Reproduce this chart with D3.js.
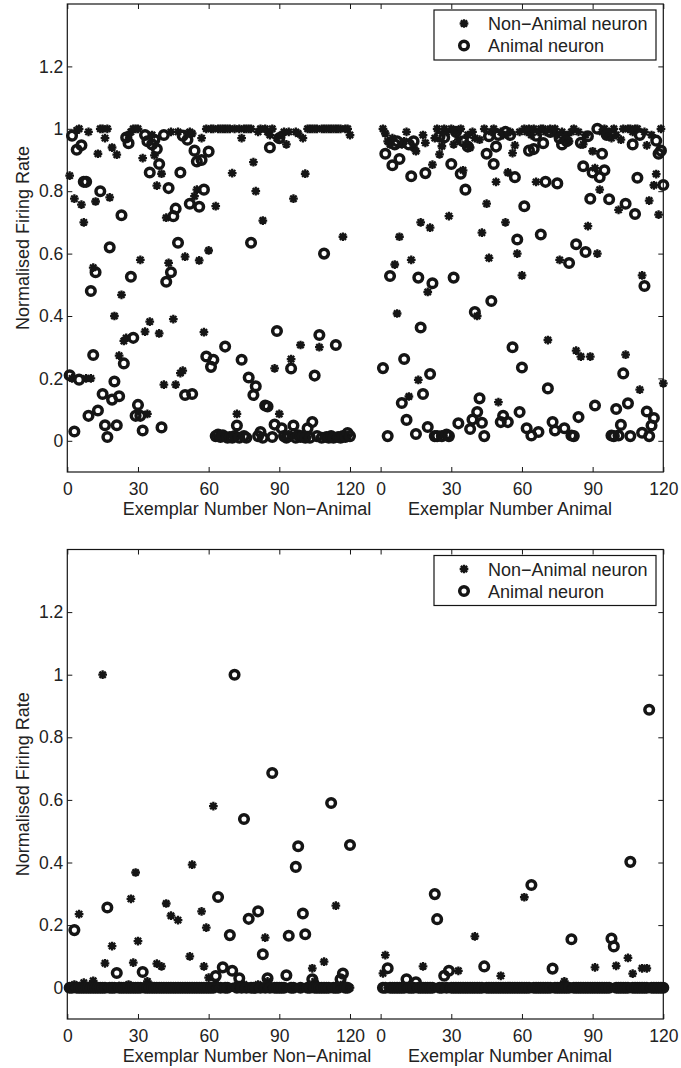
<!DOCTYPE html>
<html>
<head>
<meta charset="utf-8">
<script src="https://cdn.jsdelivr.net/npm/d3@7"></script>
<style>
  body { margin: 0; background: #fff; }
  text { font-family: "Liberation Sans", Arial, Helvetica, sans-serif; fill: #222; }
  .tick text { font-size: 17.5px; }
  .label, .legend text { font-size: 18px; }
</style>
</head>
<body>
<div id="chart"></div>
<script>
// animal exemplars are drawn after a gap, shifted by this many units
const xOffset = 133;
const exemplarTicks = [0, 30, 60, 90, 120];
const rateTicks = [0, 0.2, 0.4, 0.6, 0.8, 1, 1.2];
const legendLabels = ['Non\u2212Animal neuron', 'Animal neuron'];
const xLabels = ['Exemplar Number Non\u2212Animal', 'Exemplar Number Animal'];
const yLabel = 'Normalised Firing Rate';

// top panel: exemplars 1..120
const p1NonNeuronNonEx = [
  0.85, 0.2, 0.776, 0.995, 1.0, 0.757, 0.70, 0.2, 0.99, 0.2,
  0.555, 0.767, 0.92, 1.0, 1.0, 0.97, 1.0, 0.78, 0.94, 0.40,
  0.917, 0.273, 0.468, 0.32, 0.33, 0.98, 0.99, 1.0, 1.0, 1.0,
  0.58, 0.906, 0.35, 0.086, 0.382, 0.98, 0.915, 0.818, 0.344, 0.856,
  0.18, 0.715, 0.57, 0.99, 0.39, 0.18, 0.99, 0.217, 0.225, 0.59,
  0.985, 0.99, 0.985, 0.784, 0.805, 0.578, 0.97, 0.348, 1.0, 0.61,
  1.0, 1.0, 0.752, 1.0, 1.0, 1.0, 1.0, 1.0, 1.0, 0.858,
  1.0, 0.086, 1.0, 0.97, 1.0, 1.0, 1.0, 1.0, 0.893, 0.80,
  0.99, 1.0, 0.706, 1.0, 0.99, 0.98, 1.0, 0.232, 0.97, 0.086,
  0.98, 0.99, 0.95, 0.99, 0.262, 0.776, 0.99, 0.985, 0.307, 0.97,
  0.856, 1.0, 1.0, 1.0, 1.0, 1.0, 0.30, 1.0, 1.0, 1.0,
  1.0, 1.0, 1.0, 1.0, 1.0, 1.0, 0.654, 1.0, 1.0, 0.98
];
const p1AnimNeuronNonEx = [
  0.21, 0.978, 0.03, 0.933, 0.196, 0.947, 0.83, 0.83, 0.08, 0.48,
  0.275, 0.54, 0.097, 0.80, 0.15, 0.05, 0.012, 0.62, 0.132, 0.19,
  0.05, 0.143, 0.723, 0.248, 0.972, 0.954, 0.526, 0.33, 0.08, 0.115,
  0.08, 0.033, 0.98, 0.96, 0.86, 0.95, 0.965, 0.935, 0.887, 0.043,
  0.98, 0.51, 0.81, 0.54, 0.72, 0.744, 0.635, 0.86, 0.978, 0.147,
  0.965, 0.76, 0.15, 0.93, 0.895, 0.75, 0.90, 0.805, 0.27, 0.927,
  0.237, 0.26, 0.015, 0.02, 0.012, 0.018, 0.302, 0.01, 0.012, 0.01,
  0.015, 0.049, 0.01, 0.26, 0.015, 0.01, 0.203, 0.635, 0.147, 0.175,
  0.015, 0.028, 0.01, 0.113, 0.11, 0.94, 0.012, 0.052, 0.352, 0.97,
  0.04, 0.015, 0.01, 0.015, 0.232, 0.049, 0.01, 0.018, 0.012, 0.015,
  0.01, 0.04, 0.01, 0.06, 0.209, 0.015, 0.339, 0.01, 0.60, 0.012,
  0.01, 0.015, 0.01, 0.307, 0.012, 0.01, 0.015, 0.012, 0.025, 0.015
];
const p1NonNeuronAnimEx = [
  1.0, 0.985, 0.96, 0.95, 0.97, 0.565, 0.408, 0.654, 0.95, 0.96,
  0.99, 0.142, 0.58, 0.94, 0.928, 0.195, 0.70, 0.98, 0.955, 0.477,
  0.683, 0.885, 0.97, 1.0, 0.918, 0.944, 1.0, 0.99, 0.72, 1.0,
  0.95, 0.99, 0.965, 1.0, 0.867, 0.95, 0.98, 0.94, 0.99, 0.97,
  0.40, 0.965, 0.667, 1.0, 0.76, 0.586, 0.99, 1.0, 0.83, 0.124,
  0.99, 0.98, 0.70, 0.86, 0.99, 0.922, 0.947, 0.60, 0.99, 0.53,
  1.0, 0.99, 1.0, 0.98, 1.0, 0.83, 0.99, 1.0, 1.0, 0.99,
  0.323, 1.0, 0.99, 1.0, 0.98, 0.58, 0.99, 0.97, 0.98, 0.96,
  0.99, 1.0, 0.289, 0.99, 0.27, 0.95, 0.98, 0.688, 0.27, 0.928,
  0.874, 0.60, 0.805, 0.99, 1.0, 0.98, 0.99, 0.97, 1.0, 0.98,
  0.74, 0.965, 1.0, 0.276, 1.0, 1.0, 0.99, 1.0, 1.0, 0.164,
  0.53, 0.99, 0.947, 0.77, 0.98, 0.819, 0.855, 0.725, 1.0, 0.184
];
const p1AnimNeuronAnimEx = [
  0.233, 0.92, 0.015, 0.528, 0.883, 0.95, 0.96, 0.903, 0.121, 0.262,
  0.067, 0.95, 0.848, 0.96, 0.022, 0.523, 0.363, 0.15, 0.858, 0.044,
  0.214, 0.505, 0.015, 0.015, 0.975, 0.015, 0.972, 0.02, 0.015, 0.887,
  0.523, 0.99, 0.056, 0.856, 0.96, 0.805, 0.943, 0.038, 0.068, 0.413,
  0.092, 0.136, 0.058, 0.015, 0.92, 0.976, 0.448, 0.887, 0.943, 0.98,
  0.06, 0.08, 0.99, 0.06, 0.98, 0.30, 0.845, 0.645, 0.092, 0.235,
  0.752, 0.04, 0.93, 0.017, 0.935, 0.978, 0.028, 0.661, 0.954, 0.83,
  0.168, 0.99, 0.06, 0.033, 0.825, 0.97, 0.95, 0.04, 0.96, 0.57,
  0.017, 0.015, 0.63, 0.076, 0.955, 0.88, 0.605, 0.976, 0.776, 0.86,
  0.113, 1.0, 0.845, 0.92, 0.867, 0.98, 0.774, 0.017, 0.015, 0.102,
  0.017, 0.051, 0.216, 0.76, 0.12, 0.015, 0.95, 0.727, 0.843, 0.98,
  0.026, 0.496, 0.094, 0.015, 0.049, 0.073, 0.962, 0.92, 0.93, 0.82
];

// bottom panel
const p2NonNeuronNonEx = [
  0, 0, 0.01, 0, 0.235, 0, 0.016, 0, 0, 0.005,
  0.022, 0, 0, 0, 1.0, 0.078, 0, 0, 0.133, 0,
  0, 0.005, 0, 0, 0, 0.01, 0.284, 0.08, 0.368, 0.149,
  0, 0, 0, 0.02, 0, 0.005, 0, 0.077, 0, 0.068,
  0, 0.269, 0, 0.23, 0, 0, 0.216, 0, 0, 0,
  0, 0.1, 0.393, 0, 0, 0, 0.244, 0.068, 0.192, 0.032,
  0, 0.58, 0.01, 0, 0, 0, 0, 0, 0, 0,
  0.005, 0, 0, 0, 0.01, 0, 0, 0, 0, 0,
  0.01, 0, 0, 0.16, 0.02, 0, 0, 0, 0, 0,
  0, 0, 0, 0, 0, 0, 0, 0, 0, 0,
  0, 0, 0, 0.062, 0.02, 0, 0, 0, 0.083, 0,
  0, 0, 0, 0.262, 0, 0, 0.01, 0, 0, 0
];
const p2AnimNeuronNonEx = [
  0, 0, 0.184, 0, 0, 0, 0, 0, 0, 0,
  0, 0, 0, 0, 0, 0, 0.256, 0, 0, 0,
  0.047, 0, 0, 0, 0, 0, 0, 0, 0, 0,
  0, 0.05, 0, 0, 0, 0, 0, 0, 0, 0,
  0, 0, 0, 0, 0, 0, 0, 0, 0, 0,
  0, 0, 0, 0, 0, 0, 0, 0, 0, 0,
  0, 0, 0.037, 0.29, 0, 0.065, 0, 0, 0.168, 0.054,
  1.0, 0, 0.03, 0, 0.539, 0, 0.22, 0, 0, 0,
  0.244, 0, 0.107, 0, 0.03, 0, 0.686, 0, 0, 0,
  0, 0, 0.04, 0.166, 0, 0, 0.386, 0.452, 0, 0.237,
  0.171, 0, 0, 0.027, 0, 0, 0, 0, 0, 0,
  0, 0.59, 0, 0, 0, 0.027, 0.045, 0, 0, 0.456
];
const p2NonNeuronAnimEx = [
  0.046, 0.104, 0, 0, 0, 0, 0, 0, 0, 0,
  0, 0, 0, 0, 0, 0, 0, 0.068, 0, 0,
  0, 0, 0, 0, 0, 0, 0, 0, 0, 0,
  0, 0, 0.054, 0, 0, 0, 0, 0, 0, 0.164,
  0, 0, 0, 0, 0, 0, 0, 0, 0, 0,
  0.038, 0, 0, 0, 0, 0, 0, 0, 0, 0,
  0.289, 0, 0, 0, 0, 0, 0, 0, 0, 0,
  0, 0, 0, 0, 0, 0, 0, 0.02, 0, 0,
  0, 0, 0, 0, 0, 0, 0, 0, 0, 0,
  0.065, 0, 0, 0, 0, 0, 0, 0, 0, 0.07,
  0, 0, 0, 0, 0.095, 0, 0.045, 0, 0, 0,
  0.062, 0, 0.062, 0, 0, 0, 0, 0, 0, 0
];
const p2AnimNeuronAnimEx = [
  0, 0, 0.062, 0, 0, 0, 0, 0, 0, 0,
  0.027, 0, 0, 0, 0.017, 0, 0, 0, 0, 0,
  0, 0, 0.299, 0.219, 0, 0, 0.038, 0, 0.054, 0,
  0, 0, 0, 0, 0, 0, 0, 0, 0, 0,
  0, 0, 0, 0.068, 0, 0, 0, 0, 0, 0,
  0, 0, 0, 0, 0, 0, 0, 0, 0, 0,
  0, 0, 0, 0.328, 0, 0, 0, 0, 0, 0,
  0, 0, 0.061, 0, 0, 0, 0, 0, 0, 0,
  0.155, 0, 0, 0, 0, 0, 0, 0, 0, 0,
  0, 0, 0, 0, 0, 0, 0, 0.157, 0.132, 0,
  0, 0, 0, 0, 0, 0.402, 0, 0, 0, 0,
  0, 0, 0, 0.888, 0, 0, 0, 0, 0, 0
];

const ink = '#151515';

// matlab style '*' marker
const asterisk = {
    draw(ctx, size) {
        const r = Math.sqrt(size) / 2;
        const d = r * 0.72;
        ctx.moveTo(-r, 0); ctx.lineTo(r, 0);
        ctx.moveTo(0, -r); ctx.lineTo(0, r);
        ctx.moveTo(-d, -d); ctx.lineTo(d, d);
        ctx.moveTo(-d, d); ctx.lineTo(d, -d);
    }
};
const starPath = d3.symbol(asterisk, 76)();
const ringRadius = 4.3;
const ringWidth = 3.5;

const svg = d3.select('#chart')
    .append('svg')
    .attr('width', 681)
    .attr('height', 1068);

const scatterPanel = (props) => {
    const { top, height, stars, rings } = props;

    const margin = { left: 67.3 };
    const width = 596;

    const bounds = svg.append('g')
        .attr('transform', `translate(${margin.left}, ${top})`);

    const xScale = d3.scaleLinear()
        .domain([0, xOffset + 120])
        .range([0, width]);

    const yScale = d3.scaleLinear()
        .domain([-0.1, 1.4])
        .range([height, 0]);

    const xTickValues = exemplarTicks.concat(exemplarTicks.map(d => d + xOffset));
    const xFormat = d => d >= xOffset ? d - xOffset : d;

    const styleAxis = g => {
        g.select('.domain').remove();
        g.selectAll('.tick line').attr('stroke', ink);
    };

    bounds.append('g')
        .attr('transform', `translate(0, ${height})`)
        .call(d3.axisBottom(xScale).tickValues(xTickValues).tickFormat(xFormat)
            .tickSizeInner(-5).tickSizeOuter(0).tickPadding(10.5))
        .call(styleAxis);

    bounds.append('g')
        .call(d3.axisTop(xScale).tickValues(xTickValues).tickFormat('')
            .tickSizeInner(-5).tickSizeOuter(0))
        .call(styleAxis);

    bounds.append('g')
        .call(d3.axisLeft(yScale).tickValues(rateTicks).tickFormat(d3.format('~g'))
            .tickSizeInner(-5).tickSizeOuter(0).tickPadding(4))
        .call(styleAxis);

    bounds.append('g')
        .attr('transform', `translate(${width}, 0)`)
        .call(d3.axisRight(yScale).tickValues(rateTicks).tickFormat('')
            .tickSizeInner(-5).tickSizeOuter(0))
        .call(styleAxis);

    bounds.append('rect')
        .attr('width', width)
        .attr('height', height)
        .attr('fill', 'none')
        .attr('stroke', ink)
        .attr('stroke-width', 1.2);

    // non-animal exemplars at 1..120, animal exemplars after the offset
    const toPoints = ([nonEx, animEx]) =>
        nonEx.map((v, i) => ({ x: i + 1, v }))
            .concat(animEx.map((v, i) => ({ x: xOffset + i + 1, v })));

    bounds.append('g')
        .selectAll('path')
        .data(toPoints(stars))
        .join('path')
        .attr('d', starPath)
        .attr('transform', d => `translate(${xScale(d.x)}, ${yScale(d.v)})`)
        .attr('fill', 'none')
        .attr('stroke', ink)
        .attr('stroke-width', 2.3);

    bounds.append('g')
        .selectAll('circle')
        .data(toPoints(rings))
        .join('circle')
        .attr('cx', d => xScale(d.x))
        .attr('cy', d => yScale(d.v))
        .attr('r', ringRadius)
        .attr('fill', 'none')
        .attr('stroke', ink)
        .attr('stroke-width', ringWidth);

    // axis labels
    bounds.append('text')
        .attr('class', 'label')
        .attr('text-anchor', 'middle')
        .attr('transform', `translate(-38.8, ${height / 2}) rotate(-90)`)
        .text(yLabel);

    bounds.selectAll('.xlabel')
        .data(xLabels)
        .join('text')
        .attr('class', 'label xlabel')
        .attr('text-anchor', 'middle')
        .attr('x', (d, i) => i === 0 ? 179.7 : 442.7)
        .attr('y', height + 42.5)
        .text(d => d);

    // legend
    const legend = bounds.append('g')
        .attr('class', 'legend')
        .attr('transform', 'translate(366.7, 6)');

    legend.append('rect')
        .attr('width', 222)
        .attr('height', 50)
        .attr('fill', '#fff')
        .attr('stroke', ink)
        .attr('stroke-width', 1.2);

    legend.append('path')
        .attr('d', starPath)
        .attr('transform', 'translate(30, 13.5)')
        .attr('fill', 'none')
        .attr('stroke', ink)
        .attr('stroke-width', 2.3);

    legend.append('circle')
        .attr('cx', 30)
        .attr('cy', 35.5)
        .attr('r', ringRadius)
        .attr('fill', 'none')
        .attr('stroke', ink)
        .attr('stroke-width', ringWidth);

    legend.selectAll('.entry')
        .data(legendLabels)
        .join('text')
        .attr('class', 'entry')
        .attr('x', 54)
        .attr('y', (d, i) => 20 + i * 22)
        .text(d => d);
};

scatterPanel({
    top: 4,
    height: 468,
    stars: [p1NonNeuronNonEx, p1NonNeuronAnimEx],
    rings: [p1AnimNeuronNonEx, p1AnimNeuronAnimEx]
});

scatterPanel({
    top: 549.5,
    height: 469.5,
    stars: [p2NonNeuronNonEx, p2NonNeuronAnimEx],
    rings: [p2AnimNeuronNonEx, p2AnimNeuronAnimEx]
});
</script>
</body>
</html>
